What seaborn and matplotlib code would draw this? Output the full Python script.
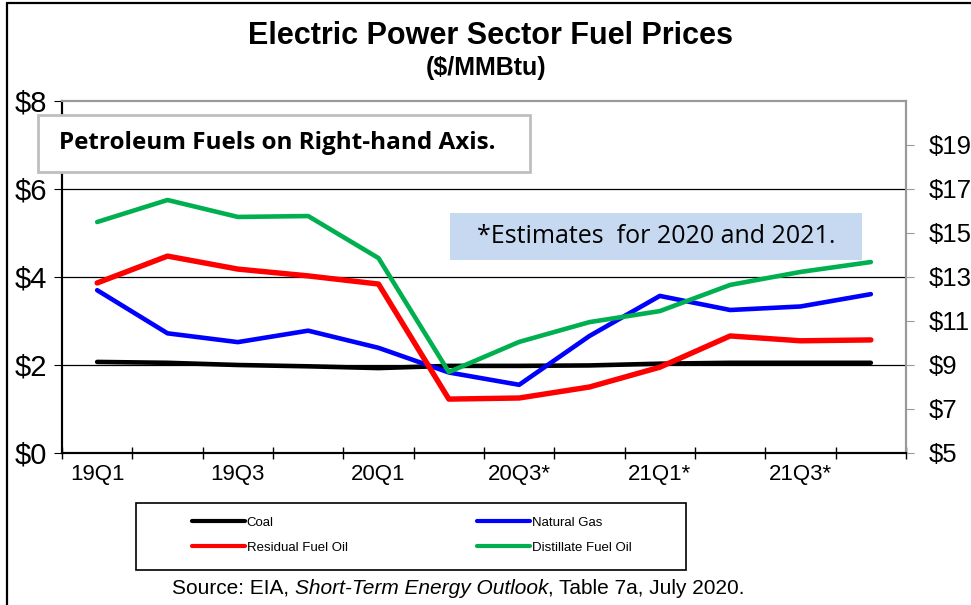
import pandas as pd
import matplotlib.pyplot as plt
import seaborn as sns
from matplotlib.patches import Rectangle
from matplotlib.lines import Line2D

# Quarterly prices, $/MMBtu
quarters = ["19Q1", "19Q2", "19Q3", "19Q4", "20Q1", "20Q2",
            "20Q3*", "20Q4*", "21Q1*", "21Q2*", "21Q3*", "21Q4*"]
coal = [2.07, 2.05, 2.00, 1.97, 1.93, 1.98, 1.98, 1.99, 2.03, 2.05, 2.05, 2.05]
natural_gas = [3.70, 2.72, 2.52, 2.78, 2.39, 1.83, 1.55, 2.66, 3.57, 3.25, 3.33, 3.61]
residual_fuel_oil = [12.73, 13.95, 13.36, 13.05, 12.68, 7.45, 7.50, 8.00, 8.90, 10.32, 10.10, 10.14]
distillate_fuel_oil = [15.50, 16.50, 15.73, 15.77, 13.86, 8.68, 10.05, 10.95, 11.45, 12.64, 13.23, 13.68]
tick_labels = ["19Q1", "", "19Q3", "", "20Q1", "", "20Q3*", "", "21Q1*", "", "21Q3*", ""]

df = pd.DataFrame({
    "quarter": quarters,
    "pos": [i + 0.5 for i in range(len(quarters))],
    "Coal": coal,
    "Natural Gas": natural_gas,
    "Residual Fuel Oil": residual_fuel_oil,
    "Distillate Fuel Oil": distillate_fuel_oil,
})

sns.set_style("white")
plt.rcParams["font.family"] = ["Liberation Sans", "DejaVu Sans"]
plt.rcParams["text.color"] = "black"
plt.rcParams["xtick.color"] = "black"
plt.rcParams["ytick.color"] = "black"

fig = plt.figure(figsize=(9.71, 6.05), dpi=100)
ax = fig.add_axes([62 / 971, 1 - 453 / 605, 844 / 971, 352 / 605])
ax2 = ax.twinx()

lw = 3.3
sns.lineplot(data=df, x="pos", y="Coal", ax=ax, color="black", lw=lw, label="Coal", legend=False)
sns.lineplot(data=df, x="pos", y="Natural Gas", ax=ax, color="#0000FF", lw=lw, label="Natural Gas", legend=False)
sns.lineplot(data=df, x="pos", y="Residual Fuel Oil", ax=ax2, color="#FF0000", lw=lw + 0.6,
             label="Residual Fuel Oil", legend=False)
sns.lineplot(data=df, x="pos", y="Distillate Fuel Oil", ax=ax2, color="#00B050", lw=lw,
             label="Distillate Fuel Oil", legend=False)

ax.set_xlim(0, len(quarters))
ax.set_ylim(0, 8)
ax2.set_ylim(5, 21)
ax.set_xlabel("")
ax.set_ylabel("")
ax2.set_ylabel("")

# x axis: ticks at boundaries, labels at category centers
ax.set_xticks(range(len(quarters) + 1))
ax.set_xticklabels([])
ax.set_xticks(df["pos"], minor=True)
ax.set_xticklabels(tick_labels, minor=True, fontsize=16)
ax.tick_params(axis="x", which="major", direction="inout", length=9, width=1, color="black", bottom=True)
ax.tick_params(axis="x", which="minor", length=0, pad=8)

ax.set_yticks([0, 2, 4, 6, 8])
ax.set_yticklabels(["$0", "$2", "$4", "$6", "$8"], fontsize=21)
ax.tick_params(axis="y", direction="out", length=6, color="black", left=True, pad=5)
ax2.set_yticks([5, 7, 9, 11, 13, 15, 17, 19])
ax2.set_yticklabels(["$5", "$7", "$9", "$11", "$13", "$15", "$17", "$19"], fontsize=18.5)
ax2.tick_params(axis="y", direction="out", length=6, color="#999999", right=True, pad=10)

for y in [2, 4, 6]:
    ax.axhline(y, color="black", lw=0.9, zorder=0)

for a in (ax, ax2):
    a.spines["top"].set_color("#999999")
    a.spines["top"].set_linewidth(1.5)
    a.spines["right"].set_color("#999999")
    a.spines["right"].set_linewidth(1.5)
    a.spines["left"].set_color("black")
    a.spines["left"].set_linewidth(1.5)
    a.spines["bottom"].set_color("black")
    a.spines["bottom"].set_linewidth(1.5)

# Titles
fig.text(0.505, 1 - 36 / 605, "Electric Power Sector Fuel Prices", ha="center", va="center",
         fontsize=22, fontweight="bold")
fig.text(0.501, 1 - 68 / 605, "($/MMBtu)", ha="center", va="center", fontsize=18, fontweight="bold")

# Annotation boxes
fig.patches.append(Rectangle((38 / 971, 1 - 172 / 605), 492 / 971, 57 / 605, transform=fig.transFigure,
                             facecolor="white", edgecolor="#BFBFBF", lw=2, zorder=5))
fig.text(59 / 971, 1 - 143 / 605, "Petroleum Fuels on Right-hand Axis.", ha="left", va="center",
         fontsize=17.5, fontweight="bold", family=["Open Sans", "DejaVu Sans"], zorder=6)
fig.patches.append(Rectangle((450 / 971, 1 - 260 / 605), 412 / 971, 47 / 605, transform=fig.transFigure,
                             facecolor="#C6D9F0", edgecolor="none", zorder=5))
fig.text(656 / 971, 1 - 237 / 605, "*Estimates  for 2020 and 2021.", ha="center", va="center",
         fontsize=18, family=["Open Sans", "DejaVu Sans"], zorder=6)

# Legend: frame plus two one-column legends
h1, l1 = ax.get_legend_handles_labels()
h2, l2 = ax2.get_legend_handles_labels()
fig.patches.append(Rectangle((136 / 971, 1 - 570 / 605), 550 / 971, 67 / 605, transform=fig.transFigure,
                             facecolor="white", edgecolor="black", lw=1.2, zorder=1))
leg_kw = dict(loc="center left", fontsize=9.5, frameon=False, handlelength=4.0, handletextpad=0.15,
              labelspacing=0.95, borderpad=0, borderaxespad=0)
leg1 = fig.legend([h1[0], h2[0]], [l1[0], l2[0]], bbox_to_anchor=(192 / 971, 1 - 535 / 605), **leg_kw)
leg2 = fig.legend([h1[1], h2[1]], [l1[1], l2[1]], bbox_to_anchor=(477 / 971, 1 - 535 / 605), **leg_kw)
for leg in (leg1, leg2):
    leg.set_zorder(3)
    for line in leg.get_lines():
        line.set_linewidth(3)

# Source note, pieces chained one after another
t1 = fig.text(172 / 971, 1 - 588 / 605, "Source: EIA, ", ha="left", va="center", fontsize=15)
t2 = ax.annotate("Short-Term Energy Outlook", xy=(1, 0), xycoords=t1, ha="left", va="bottom",
                 fontsize=15, style="italic", annotation_clip=False)
ax.annotate(", Table 7a, July 2020.", xy=(1, 0), xycoords=t2, ha="left", va="bottom",
            fontsize=15, annotation_clip=False)

# Outer chart border (top and left edges only visible)
fig.add_artist(Line2D([7 / 971, 1], [1 - 3 / 605, 1 - 3 / 605], transform=fig.transFigure,
                      color="black", lw=1.6))
fig.add_artist(Line2D([7 / 971, 7 / 971], [0, 1 - 3 / 605], transform=fig.transFigure,
                      color="black", lw=1.6))

fig.savefig("out.png", dpi=100)
